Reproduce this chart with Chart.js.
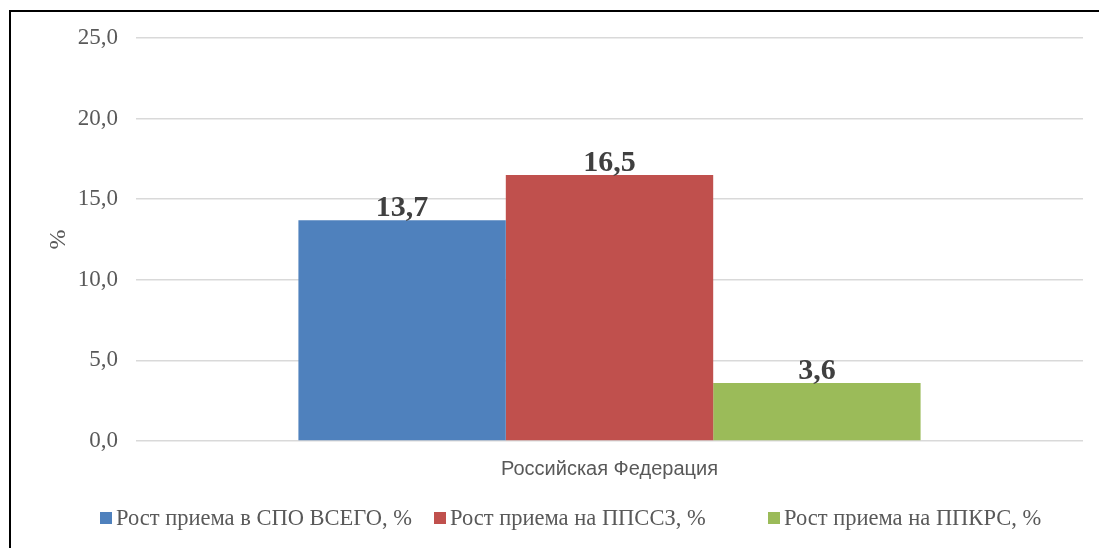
<!DOCTYPE html>
<html>
<head>
<meta charset="utf-8">
<script src="https://cdn.jsdelivr.net/npm/chart.js@4.4.1/dist/chart.umd.min.js"></script>
<style>
  html, body { margin: 0; padding: 0; background: #fff; overflow: hidden; }
  #wrap { position: relative; width: 1099px; height: 548px; }
  #frame {
    position: absolute; left: 9px; top: 10px; width: 1200px; height: 600px;
    border-left: 2px solid #000; border-top: 2px solid #000;
    pointer-events: none;
  }
</style>
</head>
<body>
<div id="wrap">
  <canvas id="chart" width="1099" height="548"></canvas>
  <div id="frame"></div>
</div>
<script>
const categories = ["Российская Федерация"];
const seriesNames = [
  "Рост приема в СПО ВСЕГО, %",
  "Рост приема на ППССЗ, %",
  "Рост приема на ППКРС, %",
];
const seriesValues = [[13.7], [16.5], [3.6]];
const seriesColors = ["#4F81BD", "#C0504D", "#9BBB59"];
const yTicks = [0, 5, 10, 15, 20, 25];

const serif = "'Liberation Serif', 'Times New Roman', serif";

function fmt(v) {
  return v.toFixed(1).replace(".", ",");
}

// value labels above the bars
const valueLabels = {
  id: "valueLabels",
  afterDatasetsDraw(chart) {
    const ctx = chart.ctx;
    ctx.save();
    ctx.font = "bold 30px " + serif;
    ctx.fillStyle = "#404040";
    ctx.textAlign = "center";
    ctx.textBaseline = "alphabetic";
    chart.data.datasets.forEach((ds, i) => {
      chart.getDatasetMeta(i).data.forEach((bar, j) => {
        ctx.fillText(fmt(ds.data[j]), bar.x, bar.y - 4);
      });
    });
    ctx.restore();
  },
};

// excel-like legend: equal-width items, small gap box -> text
const bottomLegend = {
  id: "bottomLegend",
  afterDraw(chart) {
    const ctx = chart.ctx;
    const itemWidth = 334;
    const left = 100;
    const y = 518;
    ctx.save();
    ctx.font = "22.5px " + serif;
    ctx.textBaseline = "middle";
    ctx.textAlign = "left";
    chart.data.datasets.forEach((ds, i) => {
      const x = left + i * itemWidth;
      ctx.fillStyle = ds.backgroundColor;
      ctx.fillRect(x, y - 6, 12, 12);
      ctx.fillStyle = "#595959";
      ctx.fillText(ds.label, x + 16, y + 1);
    });
    ctx.restore();
  },
};

new Chart(document.getElementById("chart"), {
  type: "bar",
  data: {
    labels: categories,
    datasets: seriesNames.map((name, i) => ({
      label: name,
      data: seriesValues[i],
      backgroundColor: seriesColors[i],
      borderWidth: 0,
      barPercentage: 1,
      categoryPercentage: 0.657,
    })),
  },
  options: {
    responsive: false,
    animation: false,
    layout: { padding: { left: 42, right: 16, top: 38, bottom: 60 } },
    plugins: {
      legend: { display: false },
      tooltip: { enabled: false },
    },
    scales: {
      x: {
        grid: { display: false },
        border: { display: false },
        ticks: {
          padding: 8,
          color: "#595959",
          font: { family: "'Liberation Sans Narrow', 'Liberation Sans', Arial, sans-serif", size: 20 },
        },
        afterFit(scale) {
          scale.height = 47;
        },
      },
      y: {
        min: 0,
        max: 25,
        afterBuildTicks(scale) {
          scale.ticks = yTicks.map((v) => ({ value: v }));
        },
        grid: { color: "#d9d9d9", lineWidth: 1.5, drawTicks: false },
        border: { display: false },
        ticks: {
          padding: 18,
          color: "#595959",
          font: { family: serif, size: 23 },
          callback: (v) => fmt(v),
        },
        title: {
          display: true,
          text: "%",
          color: "#595959",
          font: { family: serif, size: 24 },
          padding: { top: 2, bottom: 4 },
        },
        afterFit(scale) {
          scale.width = 94;
        },
      },
    },
  },
  plugins: [valueLabels, bottomLegend],
});
</script>
</body>
</html>
